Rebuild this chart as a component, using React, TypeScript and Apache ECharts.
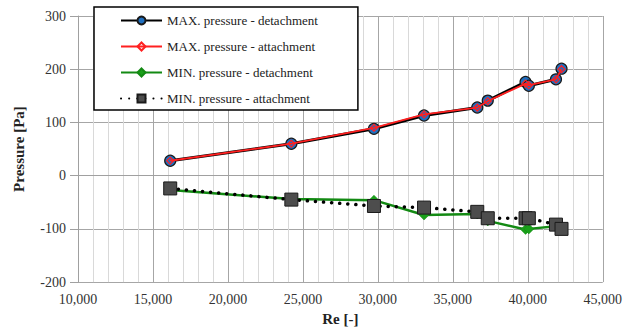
import React, { useEffect, useRef } from "react";
import * as echarts from "echarts";

const reynolds = [16150, 24230, 29740, 33080, 36630, 37330, 39850, 40070, 41880, 42250];
const maxDetachment = [28, 60, 88, 113, 128, 141, 176, 169, 181, 201];
const maxAttachment = [28, 60, 90, 115, 128, 140, 173, 170, 181, 200];
const minDetachment = [-27, -44, -46, -74, -72, -85, -101, -100, -95, -96];
const minAttachment = [-24, -45, -57, -60, -68, -80, -80, -80, -92, -100];

const seriesNames = [
  "MAX. pressure - detachment",
  "MAX. pressure - attachment",
  "MIN. pressure - detachment",
  "MIN. pressure - attachment",
];

const pair = (ys: number[]) => reynolds.map((x, i) => [x, ys[i]]);
const FONT = "Liberation Serif";

export default function App() {
  const ref = useRef<HTMLDivElement>(null);
  useEffect(() => {
    if (!ref.current) return;
    const chart = echarts.init(ref.current, undefined, { renderer: "svg" });
    chart.setOption({
      animation: false,
      backgroundColor: "#ffffff",
      textStyle: { fontFamily: FONT },
      grid: { left: 78, right: 18, top: 16, bottom: 47 },
      legend: {
        orient: "vertical",
        left: 94,
        top: 7,
        backgroundColor: "#ffffff",
        borderColor: "#000000",
        borderWidth: 1.5,
        borderRadius: 0,
        padding: [6, 40, 4, 26],
        itemGap: 11,
        itemWidth: 41,
        itemHeight: 10,
        textStyle: { fontFamily: FONT, fontSize: 13, color: "#222", lineHeight: 15 },
        data: seriesNames,
      },
      xAxis: {
        type: "value",
        min: 10000,
        max: 45000,
        interval: 5000,
        name: "Re [-]",
        nameLocation: "middle",
        nameGap: 27,
        nameTextStyle: { fontFamily: FONT, fontSize: 15, fontWeight: "bold", color: "#222" },
        axisLine: { show: true, lineStyle: { color: "#a0a0a0", width: 1 } },
        axisTick: { show: false },
        axisLabel: {
          fontFamily: FONT,
          fontSize: 14,
          color: "#333",
          margin: 10,
          formatter: (v: number) => v.toLocaleString("en-US"),
        },
        splitLine: { show: true, lineStyle: { color: "#a6a6a6", width: 1 } },
        minorTick: { show: false, splitNumber: 5 },
        minorSplitLine: { show: true, lineStyle: { color: "#d9d9d9", width: 1 } },
      },
      yAxis: {
        type: "value",
        min: -200,
        max: 300,
        interval: 100,
        name: "Pressure [Pa]",
        nameLocation: "middle",
        nameGap: 52,
        nameTextStyle: { fontFamily: FONT, fontSize: 15, fontWeight: "bold", color: "#222" },
        axisLine: { show: true, lineStyle: { color: "#a0a0a0", width: 1 } },
        axisTick: { show: true, length: 8, inside: false, lineStyle: { color: "#a0a0a0" } },
        axisLabel: { fontFamily: FONT, fontSize: 14, color: "#333", margin: 12 },
        splitLine: { show: true, lineStyle: { color: "#a6a6a6", width: 1 } },
      },
      series: [
        {
          name: seriesNames[0],
          type: "line",
          data: pair(maxDetachment),
          lineStyle: { color: "#000000", width: 3 },
          itemStyle: { color: "#1f6fc0", borderColor: "#1a1a1a", borderWidth: 1.2 },
          symbol: "circle",
          symbolSize: 11,
          z: 2,
        },
        {
          name: seriesNames[1],
          type: "line",
          data: pair(maxAttachment),
          lineStyle: { color: "#ff2020", width: 1.8 },
          itemStyle: { color: "rgba(255,255,255,0)", borderColor: "#ff2020", borderWidth: 1.2 },
          symbol: "diamond",
          symbolSize: 7,
          z: 3,
        },
        {
          name: seriesNames[2],
          type: "line",
          data: pair(minDetachment),
          lineStyle: { color: "#138a13", width: 2.5 },
          itemStyle: { color: "#1aa01a", borderColor: "#138a13", borderWidth: 0.5 },
          symbol: "diamond",
          symbolSize: 10,
          z: 2,
        },
        {
          name: seriesNames[3],
          type: "line",
          data: pair(minAttachment),
          lineStyle: { color: "#000000", width: 3.5, type: [0.1, 8], cap: "round" },
          itemStyle: { color: "#4d4d4d", borderColor: "#1a1a1a", borderWidth: 1 },
          symbol: "rect",
          symbolSize: 13,
          z: 3,
        },
      ],
    });
    return () => chart.dispose();
  }, []);
  return (
    <div
      ref={ref}
      style={{ position: "fixed", left: 0, top: 0, width: 625, height: 331 }}
    />
  );
}
